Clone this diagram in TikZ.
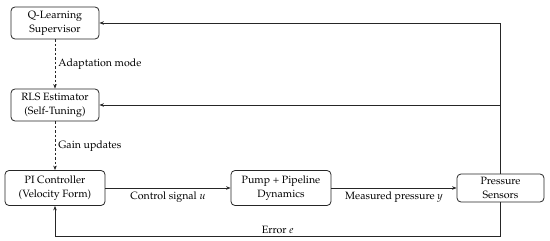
\documentclass[tikz,border=0pt]{standalone}
\usepackage[T1]{fontenc}
\usepackage{mathpazo}
\usetikzlibrary{arrows.meta}

\newcommand{\blockfont}{\fontsize{10.6}{13.8}\selectfont}

\tikzset{
  blockbox/.style={draw=black!85, line width=0.8pt, rounded corners=4pt, align=center,
    inner sep=1pt, font=\blockfont},
  sigline/.style={draw=black!85, line width=0.8pt, -{Stealth[length=4.5pt,width=3.5pt]}},
  tuneline/.style={sigline, dash pattern=on 2.5pt off 2pt},
  siglabel/.style={font=\blockfont, inner sep=3pt}
}

\begin{document}
\begin{tikzpicture}[x=1pt, y=-1pt]
  \useasboundingbox (0,0) rectangle (550,241);

  % Bloques de supervision
  \node[blockbox, minimum width=88pt, minimum height=32pt] (qls) at (55,23) {Q-Learning\\Supervisor};
  \node[blockbox, minimum width=88pt, minimum height=32pt] (rls) at (55,105) {RLS Estimator\\(Self-Tuning)};

  % Lazo principal
  \node[blockbox, minimum width=100pt, minimum height=35pt] (pi) at (55,188) {PI Controller\\(Velocity Form)};
  \node[blockbox, minimum width=100pt, minimum height=35pt] (pump) at (281,188) {Pump + Pipeline\\Dynamics};
  \node[blockbox, minimum width=87pt, minimum height=28pt] (sens) at (500.5,188) {Pressure\\Sensors};

  \coordinate (errturn) at (500.5,236);

  % Senales
  \draw[tuneline] (qls) -- node[siglabel, right] {Adaptation mode} (rls);
  \draw[tuneline] (rls) -- node[siglabel, right] {Gain updates} (pi);

  \draw[sigline] (pi) -- node[siglabel, below] {Control signal $u$} (pump);
  \draw[sigline] (pump) -- node[siglabel, below] {Measured pressure $y$} (sens);

  % Realimentacion
  \draw[sigline] (sens.north) |- (qls.east);
  \draw[sigline] (sens.north) |- (rls.east);
  \draw[sigline] (sens.south) -- (errturn) -| node[siglabel, pos=0.25, above, inner sep=2pt] {Error $e$} (pi.south);
\end{tikzpicture}
\end{document}
